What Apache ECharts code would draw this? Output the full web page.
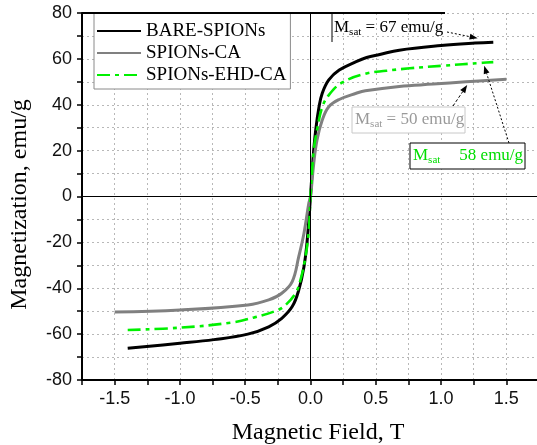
<!DOCTYPE html>
<html>
<head>
<meta charset="utf-8">
<script src="https://cdn.jsdelivr.net/npm/echarts@6/dist/echarts.min.js"></script>
<style>
  html, body { margin: 0; padding: 0; background: #fff; overflow: hidden; }
  #chart { width: 539px; height: 445px; }
</style>
</head>
<body>
<div id="chart"></div>
<script>
// Magnetization curves (M vs H) of the three nanoparticle samples
const seriesNames = ['BARE-SPIONs', 'SPIONs-CA', 'SPIONs-EHD-CA'];

const fieldBare = [-1.4, -1.0, -0.74, -0.48, -0.32, -0.22, -0.14, -0.09, -0.05, -0.025, 0, 0.02, 0.04, 0.065, 0.09, 0.14, 0.22, 0.35, 0.43, 0.53, 0.68, 1.0, 1.26, 1.4];
const magBare   = [-66.2, -64.0, -62.4, -60.0, -56.8, -53.1, -48.0, -40.8, -30.6, -19.0, 0, 17, 29, 39, 45, 50.8, 55.1, 58.8, 60.6, 61.9, 63.8, 65.8, 66.9, 67.3];

const fieldCA = [-1.5, -1.0, -0.48, -0.32, -0.22, -0.14, -0.09, -0.05, -0.013, 0, 0.025, 0.05, 0.09, 0.14, 0.22, 0.35, 0.42, 0.68, 0.94, 1.19, 1.5];
const magCA   = [-50.4, -49.5, -47.3, -45.1, -42.2, -37.1, -26.2, -16.0, -3.0, 0, 14.5, 24.6, 33.3, 39.1, 42.3, 45.0, 46.1, 48.0, 49.0, 50.0, 51.1];

const fieldEHD = [-1.4, -1.0, -0.61, -0.43, -0.25, -0.19, -0.115, -0.077, -0.038, -0.013, 0, 0.025, 0.05, 0.09, 0.14, 0.24, 0.42, 0.58, 0.76, 1.01, 1.32, 1.4];
const magEHD   = [-58.2, -57.2, -55.0, -52.7, -49.5, -47.3, -42.2, -36.4, -26.2, -14.6, 0, 20.3, 29.0, 39.0, 44.2, 49.6, 53.5, 54.8, 55.9, 57.0, 58.3, 58.6];

// Saturation magnetization notes
const msatBare = 67, msatCA = 50, msatEHD = 58;

const xLabelStep = 0.5;   // labelled field values
const yLabelStep = 20;    // labelled magnetization values

const pairs = (xs, ys) => xs.map((x, i) => [x, ys[i]]);

const serif = '"Liberation Serif", "Times New Roman", serif';
const sans = '"Liberation Sans", Arial, sans-serif';

const chart = echarts.init(document.getElementById('chart'), null, { renderer: 'canvas' });

const gridLine = { show: true, lineStyle: { color: '#b8b8b8', type: [2, 3], width: 1 } };

const option = {
  animation: false,
  backgroundColor: '#fff',
  grid: { left: 82, right: 0, top: 13, bottom: 65, containLabel: false, outerBoundsMode: 'none' },
  xAxis: {
    type: 'value', min: -1.75, max: 1.75, interval: 0.25,
    name: 'Magnetic Field, T', nameLocation: 'middle', nameGap: 41,
    nameTextStyle: { fontFamily: serif, fontSize: 24, color: '#000', padding: [0, 0, 0, 15] },
    axisLine: { show: true, onZero: false, lineStyle: { color: '#000', width: 2 } },
    axisTick: { show: true, inside: false, length: 5, lineStyle: { color: '#000', width: 1.5 } },
    axisLabel: {
      margin: 10, fontFamily: sans, fontSize: 18, color: '#111',
      formatter: v => {
        const k = v / xLabelStep;
        if (Math.abs(k - Math.round(k)) > 1e-6 || Math.abs(v) > 1.6) return '';
        return v.toFixed(1);
      }
    },
    splitLine: gridLine
  },
  yAxis: {
    type: 'value', min: -80, max: 80, interval: 10,
    name: 'Magnetization, emu/g', nameLocation: 'middle', nameGap: 50,
    nameTextStyle: { fontFamily: serif, fontSize: 24, color: '#000', padding: [0, 16, 0, 0] },
    axisLine: { show: true, onZero: false, lineStyle: { color: '#000', width: 2 } },
    axisTick: { show: true, inside: false, length: 5, lineStyle: { color: '#000', width: 1.5 } },
    axisLabel: {
      margin: 10, fontFamily: sans, fontSize: 18, color: '#111',
      formatter: v => (Math.abs(v % yLabelStep) < 1e-6 ? String(v) : '')
    },
    splitLine: gridLine
  },
  legend: {
    data: seriesNames,
    orient: 'vertical',
    left: 94, top: 13,
    padding: [8, 4, 4, 2],
    itemWidth: 44, itemHeight: 14, itemGap: 2,
    backgroundColor: '#fff',
    borderColor: '#8a8a8a', borderWidth: 1,
    itemStyle: { opacity: 0 },
    textStyle: { fontFamily: serif, fontSize: 19, color: '#000', lineHeight: 20 }
  },
  series: [
    {
      name: 'BARE-SPIONs', type: 'line', data: pairs(fieldBare, magBare),
      symbol: 'none', smooth: 0.4, z: 3,
      lineStyle: { color: '#000', width: 3 }, itemStyle: { color: '#000' },
      markLine: {
        silent: true, symbol: 'none', label: { show: false },
        lineStyle: { color: '#000', width: 1, type: 'solid' },
        data: [{ xAxis: 0 }, { yAxis: 0 }]
      }
    },
    {
      name: 'SPIONs-CA', type: 'line', data: pairs(fieldCA, magCA),
      symbol: 'none', smooth: 0.4, z: 3,
      lineStyle: { color: '#808080', width: 3 }, itemStyle: { color: '#808080' }
    },
    {
      name: 'SPIONs-EHD-CA', type: 'line', data: pairs(fieldEHD, magEHD),
      symbol: 'none', smooth: 0.4, z: 4,
      lineStyle: { color: '#00f000', width: 2.6, type: [13, 5, 4, 5] }, itemStyle: { color: '#00f000' }
    }
  ]
};

chart.setOption(option);

// --- annotations: labels, boxes and arrows ---
const toPx = (x, y) => chart.convertToPixel({ xAxisIndex: 0, yAxisIndex: 0 }, [x, y]);

function arrow(from, to, dash) {
  const dx = to[0] - from[0], dy = to[1] - from[1];
  const len = Math.hypot(dx, dy), ux = dx / len, uy = dy / len;
  const hl = 8, hw = 3;
  const bx = to[0] - ux * hl, by = to[1] - uy * hl;
  return [
    { type: 'line', silent: true, z: 20,
      shape: { x1: from[0], y1: from[1], x2: bx, y2: by },
      style: { stroke: '#000', lineWidth: 1, lineDash: dash } },
    { type: 'polygon', silent: true, z: 20,
      shape: { points: [to, [bx - uy * hw, by + ux * hw], [bx + uy * hw, by - ux * hw]] },
      style: { fill: '#000' } }
  ];
}

function msatRich(color) {
  return {
    m: { fontFamily: serif, fontSize: 17, fill: color },
    s: { fontFamily: serif, fontSize: 11, fill: color, padding: [8, 0, 0, 0] },
    g: { width: 19 },
    t: { fontFamily: serif, fontSize: 17, fill: color }
  };
}

const plotLeft = toPx(-1.75, 80);
const graphics = [
  // upper frame edge
  { type: 'line', silent: true, z: 15,
    shape: { x1: plotLeft[0], y1: plotLeft[1], x2: 445, y2: plotLeft[1] },
    style: { stroke: '#000', lineWidth: 2 } },

  // Msat = 67 note
  { type: 'line', silent: true, z: 15,
    shape: { x1: 332, y1: plotLeft[1], x2: 332, y2: 42 },
    style: { stroke: '#000', lineWidth: 1 } },
  { type: 'text', z: 16, x: 334, y: 28,
    style: { text: '{m|M}{s|sat}{t| = ' + msatBare + ' emu/g}', rich: msatRich('#000'), fill: '#000', verticalAlign: 'middle' } },
  ...arrow([447, 32], toPx(1.28, 69), [2, 2]),

  // Msat = 50 note
  { type: 'rect', z: 15, shape: { x: 352, y: 107, width: 113, height: 26 },
    style: { fill: '#fff', stroke: '#c8c8c8', lineWidth: 1 } },
  { type: 'text', z: 16, x: 355, y: 120,
    style: { text: '{m|M}{s|sat}{t| = ' + msatCA + ' emu/g}', rich: msatRich('#9a9a9a'), fill: '#9a9a9a', verticalAlign: 'middle' } },
  ...arrow([453, 106], toPx(1.2, 48.6), [3, 2]),

  // Msat 58 note
  { type: 'rect', z: 15, shape: { x: 410, y: 143, width: 115, height: 26 },
    style: { fill: '#fff', stroke: '#000', lineWidth: 1 } },
  { type: 'text', z: 16, x: 413, y: 156,
    style: { text: '{m|M}{s|sat}{g|}{t|' + msatEHD + ' emu/g}', rich: msatRich('#00dd00'), fill: '#00dd00', verticalAlign: 'middle' } },
  ...arrow([509, 143], toPx(1.33, 57), [2, 2])
];

chart.setOption({ graphic: graphics });
</script>
</body>
</html>
